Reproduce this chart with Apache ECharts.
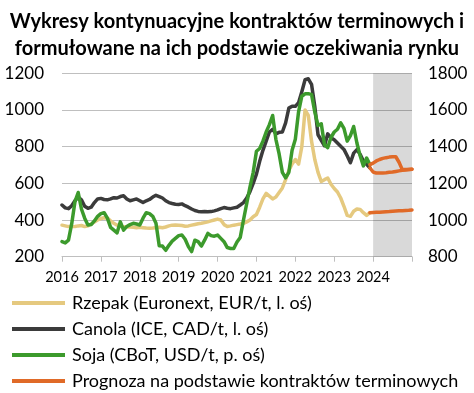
<!DOCTYPE html>
<html>
<head>
<meta charset="utf-8">
<script src="https://cdn.jsdelivr.net/npm/echarts@6/dist/echarts.min.js"></script>
<style>
html,body{margin:0;padding:0;background:#fff;}
#c{width:474px;height:393px;}
</style>
</head>
<body>
<div id="c"></div>
<script>
// Monthly categories 2016-01 .. 2025-01
var startYear = 2016, endYear = 2025;
var months = [];
for (var y = startYear; y <= endYear; y++) {
  for (var mo = 1; mo <= 12; mo++) {
    if (y === endYear && mo > 1) break;
    months.push(y + '-' + (mo < 10 ? '0' + mo : mo));
  }
}

// Rzepak (Euronext, EUR/t) 2016-01 .. 2023-12
var rzepak = [
  372, 368, 364, 364, 365, 368, 370, 364, 368, 378, 390, 400,
  408, 412, 410, 395, 382, 372, 366, 364, 362, 362, 360, 358,
  360, 358, 356, 355, 356, 358, 360, 358, 362, 368, 372, 373,
  372, 370, 366, 368, 372, 376, 380, 382, 386, 390, 395, 400,
  405, 400, 375, 365, 368, 372, 375, 378, 382, 390, 400, 418,
  430, 470, 515, 545, 530, 515, 525, 550, 575, 620, 670, 705,
  730, 705, 800, 1000, 970, 830, 730, 660, 610, 620, 629, 595,
  572, 553, 520, 475, 425, 420, 448, 460, 458, 440, 425, 440
];
// Canola (ICE, CAD/t)
var canola = [
  482, 466, 462, 478, 505, 525, 510, 475, 464, 470, 495, 515,
  518, 512, 510, 515, 522, 520, 528, 532, 515, 505, 510, 515,
  505, 495, 505, 512, 525, 535, 528, 520, 505, 495, 490, 486,
  485, 488, 478, 470, 460, 452, 447, 445, 446, 445, 446, 450,
  455, 462, 468, 464, 462, 466, 470, 482, 495, 520, 555, 600,
  650, 720, 780, 830, 880, 895, 870, 878, 880, 930, 1010, 1020,
  1020, 1040, 1100, 1165, 1170, 1140, 1020, 865, 835, 805, 870, 848,
  838, 820, 802, 785, 750, 712, 765, 784, 758, 722, 704, 685
];
// Soja (CBoT, USD/t) - right axis
var soja = [
  882, 875, 890, 980, 1100, 1150, 1060, 1010, 973, 975, 995, 1020,
  1035, 1040, 1010, 960, 945, 930, 990, 945, 965, 975, 982, 978,
  973, 1010, 1040, 1035, 1020, 982, 860, 858, 835, 862, 885, 900,
  915, 918, 895, 855, 828, 890, 882, 858, 890, 927, 915, 912,
  918, 900, 882, 850, 845, 845, 880, 905, 1000, 1090, 1180, 1260,
  1375, 1390, 1430, 1480, 1520, 1570, 1440, 1360, 1260, 1230, 1260, 1380,
  1440, 1590, 1675, 1688, 1688, 1685, 1590, 1515, 1525, 1410, 1395, 1450,
  1480, 1495, 1530, 1500, 1430, 1460, 1510, 1420, 1350, 1295, 1338, 1302
];
// Forecasts 2023-12 .. 2025-01
var forecastStart = 95;
var rzepakForecast = [440, 441, 442, 443, 444, 445, 446, 448, 449, 450, 451, 452, 453, 455];
var canolaForecast = [685, 662, 656, 656, 657, 658, 660, 662, 665, 668, 671, 673, 675, 677];
var sojaForecast = [1302, 1310, 1322, 1330, 1336, 1340, 1343, 1345, 1345, 1315, 1275, 1275, 1276, 1277];

var leftTicks = {min: 200, max: 1200, interval: 200};
var rightTicks = {min: 800, max: 1800, interval: 200};

var names = [
  'Rzepak (Euronext, EUR/t, l. oś)',
  'Canola (ICE, CAD/t, l. oś)',
  'Soja (CBoT, USD/t, p. oś)',
  'Prognoza na podstawie kontraktów terminowych'
];
var colors = ['#E5C97F', '#3B3B3B', '#3C9A2C', '#E06A28'];

function hist(arr) {
  var out = arr.slice();
  while (out.length < months.length) out.push(null);
  return out;
}
function fc(arr) {
  var out = [];
  for (var i = 0; i < forecastStart; i++) out.push(null);
  return out.concat(arr);
}

var FONT = 'Lato';
var chart = echarts.init(document.getElementById('c'), null, {renderer: 'canvas'});
function lineSeries(name, data, color, yIdx, z) {
  return {
    name: name, type: 'line', data: data, yAxisIndex: yIdx,
    symbol: 'none', smooth: false, connectNulls: false,
    lineStyle: {color: color, width: 3.5, join: 'round', cap: 'round'},
    itemStyle: {color: color}, z: z, animation: false
  };
}
var series = [
  {
    type: 'line', data: [], silent: true, z: 1,
    markArea: {
      silent: true,
      itemStyle: {color: 'rgba(0,0,0,0.15)'},
      data: [[{xAxis: '2024-01'}, {xAxis: '2025-01'}]]
    }
  },
  lineSeries(names[0], hist(rzepak), colors[0], 0, 3),
  lineSeries(names[1], hist(canola), colors[1], 0, 4),
  lineSeries(names[2], hist(soja), colors[2], 1, 5),
  lineSeries(names[3], fc(rzepakForecast), colors[3], 0, 6),
  lineSeries(names[3], fc(canolaForecast), colors[3], 0, 6),
  lineSeries(names[3], fc(sojaForecast), colors[3], 1, 6)
];

function plain(v) { return String(v); }

chart.setOption({
  animation: false,
  backgroundColor: '#fff',
  title: {
    text: 'Wykresy kontynuacyjne kontraktów terminowych i\nformułowane na ich podstawie oczekiwania rynku',
    left: 'center', top: 3,
    textStyle: {fontFamily: FONT, fontSize: 20, fontWeight: 'bold', color: '#000', lineHeight: 27}
  },
  grid: {left: 62, right: 62, top: 73.3, bottom: 136.3, containLabel: false},
  legend: {
    data: names, orient: 'vertical', left: 12, top: 293, padding: 0,
    itemWidth: 53, itemHeight: 4, itemGap: 6, icon: 'rect',
    textStyle: {fontFamily: FONT, fontSize: 18, color: '#000', lineHeight: 20, padding: [0,0,0,2]}
  },
  xAxis: {
    type: 'category', data: months, boundaryGap: false,
    axisLine: {lineStyle: {color: '#BFBFBF', width: 1}},
    axisTick: {show: true, length: 5, interval: function (i) { return i % 12 === 0; }, lineStyle: {color: '#BFBFBF'}},
    axisLabel: {
      interval: function (i) { return i % 12 === 0 && i < months.length - 1; },
      formatter: function (v) { return v.slice(0, 4); },
      fontFamily: FONT, fontSize: 14.5, color: '#000', margin: 13
    },
    splitLine: {show: false}
  },
  yAxis: [
    {
      type: 'value', min: leftTicks.min, max: leftTicks.max, interval: leftTicks.interval,
      axisLine: {show: false}, axisTick: {show: false},
      axisLabel: {fontFamily: FONT, fontSize: 17, color: '#000', margin: 18, formatter: plain},
      splitLine: {lineStyle: {color: '#BFBFBF', width: 1}}
    },
    {
      type: 'value', min: rightTicks.min, max: rightTicks.max, interval: rightTicks.interval,
      axisLine: {show: false}, axisTick: {show: false},
      axisLabel: {fontFamily: FONT, fontSize: 17, color: '#000', margin: 16, formatter: plain},
      splitLine: {show: false}
    }
  ],
  series: series
});
</script>
</body>
</html>
